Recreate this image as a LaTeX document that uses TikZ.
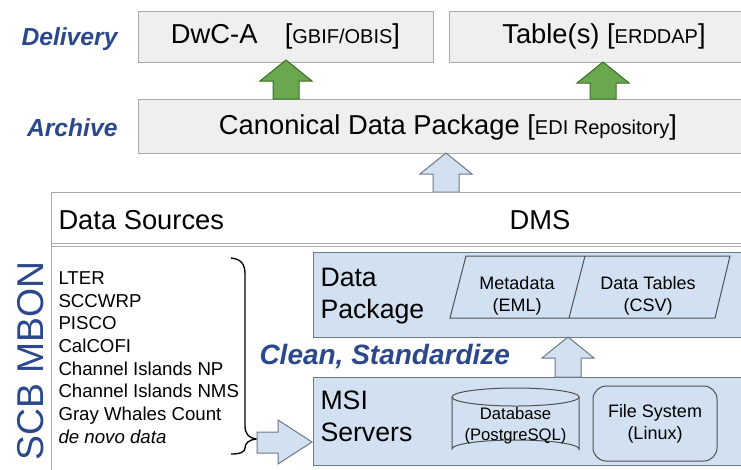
\documentclass[tikz,border=0pt]{standalone}
\usepackage{fontspec}
\setmainfont{Liberation Sans}

\definecolor{boxgray}{RGB}{239,239,239}
\definecolor{linegray}{RGB}{170,170,170}
\definecolor{paleblue}{RGB}{210,225,241}
\definecolor{titleblue}{RGB}{44,72,140}
\definecolor{arrowgreen}{RGB}{106,168,79}
\definecolor{darkgreen}{RGB}{56,110,34}
\definecolor{edgeblue}{RGB}{110,120,130}
\definecolor{darkline}{RGB}{80,80,80}

\tikzset{every picture/.style={line width=0.75pt}}
\tikzset{
  graybox/.style={draw=linegray, fill=boxgray, inner sep=0pt},
  bluebox/.style={draw=edgeblue, fill=paleblue, inner sep=0pt},
  steptitle/.style={font=\fontsize{18.5}{20}\selectfont\bfseries\itshape, text=titleblue, inner sep=0.75pt},
  bigtext/.style={font=\fontsize{20.5}{24}\selectfont, inner sep=0.75pt},
  smalltext/.style={font=\fontsize{13.5}{16.5}\selectfont, align=center, inner sep=0.75pt},
}
\newcommand{\tagtext}[1]{{\fontsize{15}{17}\selectfont #1}}
% block arrow: centre x, tip y, bottom y, fill, draw
\newcommand{\blockarrow}[5]{%
  \draw [draw=#5, fill=#4, line width=0.75pt]
    (#1-13,#3) -- (#1-13,#2+21) -- (#1-26,#2+21) -- (#1,#2) -- (#1+26,#2+21) -- (#1+13,#2+21) -- (#1+13,#3) -- cycle ;}

\begin{document}
\begin{tikzpicture}[x=0.75pt,y=0.75pt,yscale=-1,xscale=1]
\useasboundingbox (0,0) rectangle (741,469);
\clip (0,0) rectangle (741,469);

%Delivery row
\node [steptitle, anchor=east] (delivery) at (119,39) {Delivery};
\node [graybox, minimum width=295*0.75pt, minimum height=51*0.75pt] (dwc) at (285.5,36.5) {};
\node [bigtext] (dwctext) at (dwc) {DwC-A\quad[\tagtext{GBIF/OBIS}]};
\node [graybox, minimum width=300*0.75pt, minimum height=51*0.75pt, anchor=west] (tables) at (449,36.5) {};
\node [bigtext] (tabtext) at (604,36.5) {Table(s) [\tagtext{ERDDAP}]};

%Archive row
\node [steptitle, anchor=east] (archive) at (119,128) {Archive};
\node [graybox, minimum width=615*0.75pt, minimum height=54*0.75pt, anchor=north west] (canon) at (138,99) {};
\node [bigtext] (canontext) at (448,127) {Canonical Data Package [\tagtext{EDI Repository}]};

%Green arrows
\blockarrow{286}{60}{99}{arrowgreen}{darkgreen}
\blockarrow{603}{62}{99}{arrowgreen}{darkgreen}

%Blue arrow up to archive
\blockarrow{446}{153}{192}{paleblue}{edgeblue}

%DMS frame
\draw [draw=linegray] (51,480) -- (51,192) -- (760,192) ;
\draw [draw=linegray] (51,243) -- (760,243) ;
\draw [draw=linegray] (51,246) -- (760,246) ;
\node [bigtext, anchor=west] (sources) at (57,220) {Data Sources};
\node [bigtext] (dms) at (540,220) {DMS};

%SCB MBON
\node [font=\fontsize{28}{30}\selectfont, text=titleblue, rotate=90] (mbon) at (31,361) {SCB MBON};

%Source list
\node [anchor=north west, align=left, inner sep=0.75pt, font=\fontsize{14}{17}\selectfont] (list) at (57,270)
  {LTER\\SCCWRP\\PISCO\\CalCOFI\\Channel Islands NP\\Channel Islands NMS\\Gray Whales Count\\\textit{de novo data}};

%Brace
\draw [line width=1pt] (231,258) .. controls (241,259) and (245,264) .. (245,274) -- (245,426) .. controls (245,434) and (249,438) .. (256,439) .. controls (249,440) and (245,443) .. (245,448) .. controls (245,452) and (240,454) .. (231,454) ;

%Arrow into servers
\draw [draw=edgeblue, fill=paleblue] (257,432) -- (278,432) -- (278,420) -- (312,442) -- (278,464) -- (278,453) -- (257,453) -- cycle ;

%Data Package
\node [bluebox, minimum width=440*0.75pt, minimum height=85*0.75pt, anchor=north west] (pkg) at (313,252) {};
\node [bigtext, anchor=west, align=left, font=\fontsize{20}{24}\selectfont] (pkgtext) at (319,296) {Data\\Package};
\draw [draw=darkline] (466,256) -- (730,256) -- (715,318) -- (450,318) -- cycle ;
\draw [draw=darkline] (585,256) -- (569,318) ;
\node [smalltext] (eml) at (517,296) {Metadata\\(EML)};
\node [smalltext] (csv) at (648,296) {Data Tables\\(CSV)};

%Clean, Standardize
\node [steptitle, anchor=west, font=\fontsize{21}{22}\selectfont\bfseries\itshape] (clean) at (258,357) {Clean, Standardize};

%MSI Servers
\node [bluebox, minimum width=440*0.75pt, minimum height=88*0.75pt, anchor=north west] (msi) at (313,377) {};
\node [bigtext, anchor=west, align=left, font=\fontsize{20}{24}\selectfont] (msitext) at (319,416) {MSI\\Servers};
%Database cylinder
\draw [draw=darkline, fill=paleblue] (452,397) -- (452,449) arc (180:360:63.5 and 9) -- (579,397) ;
\draw [draw=darkline, fill=paleblue] (515.5,397) ellipse (63.5 and 9) ;
\node [smalltext, font=\fontsize{12.5}{15.5}\selectfont] (dbtext) at (515.5,426) {Database\\(PostgreSQL)};
\node [draw=darkline, rounded corners=10pt, fill=paleblue, minimum width=124*0.75pt, minimum height=75*0.75pt] (fs) at (655,423.5) {};
\node [smalltext] (fstext) at (655,424) {File System\\(Linux)};

%Arrow from servers to package
\blockarrow{568}{337}{377}{paleblue}{edgeblue}

\end{tikzpicture}
\end{document}
